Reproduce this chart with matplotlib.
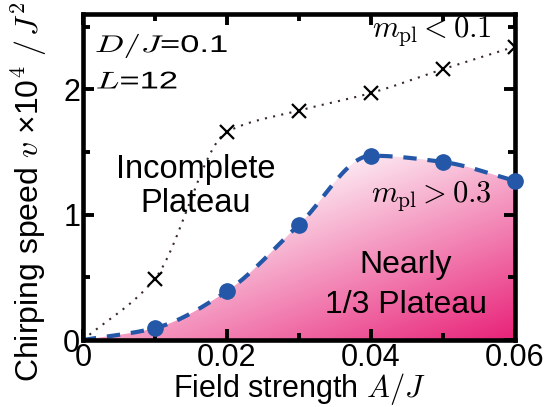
import matplotlib
matplotlib.use("Agg")
import matplotlib.pyplot as plt
import matplotlib.transforms as mtransforms
from matplotlib.textpath import TextPath
from matplotlib.patches import PathPatch
from matplotlib.font_manager import FontProperties
import numpy as np

plt.rcParams['font.family'] = ['Liberation Sans', 'DejaVu Sans']
plt.rcParams['mathtext.fontset'] = 'cm'

# field strength A/J
field = [0.0, 0.01, 0.02, 0.03, 0.04, 0.05, 0.06]
# chirping speed, m_pl < 0.1 (crosses)
v_low = [0.0, 0.49, 1.66, 1.83, 1.97, 2.16, 2.34]
# chirping speed, m_pl > 0.3 (dots)
v_high = [0.0, 0.095, 0.39, 0.92, 1.47, 1.42, 1.27]

BLUE = '#2457a7'
PINK = np.array([0.91, 0.13, 0.47])


def pchip(xs, ys, xn):
    # monotone piecewise cubic through the points
    xs = np.asarray(xs, float)
    ys = np.asarray(ys, float)
    h = np.diff(xs)
    d = np.diff(ys) / h
    m = np.zeros_like(ys)
    for i in range(1, len(xs) - 1):
        if d[i - 1] * d[i] > 0:
            w1 = 2 * h[i] + h[i - 1]
            w2 = h[i] + 2 * h[i - 1]
            m[i] = (w1 + w2) / (w1 / d[i - 1] + w2 / d[i])
    m[0] = d[0]
    m[-1] = d[-1]
    k = np.clip(np.searchsorted(xs, xn) - 1, 0, len(xs) - 2)
    t = (xn - xs[k]) / h[k]
    h00 = 2 * t**3 - 3 * t**2 + 1
    h10 = t**3 - 2 * t**2 + t
    h01 = -2 * t**3 + 3 * t**2
    h11 = t**3 - t**2
    return h00 * ys[k] + h10 * h[k] * m[k] + h01 * ys[k + 1] + h11 * h[k] * m[k + 1]


def wide_text(ax, x, y, s, size, sx=1.0, ha='left'):
    # text drawn as a path so it can be stretched sideways
    tp = TextPath((0, 0), s, size=size, prop=FontProperties(family='Liberation Sans'))
    off = 0
    if ha == 'right':
        off = -tp.get_extents().x1
    tr = (mtransforms.Affine2D().translate(off, 0).scale(sx / 72, 1 / 72)
          + ax.figure.dpi_scale_trans
          + mtransforms.ScaledTranslation(x, y, ax.transData))
    ax.add_patch(PathPatch(tp, transform=tr, color='black', lw=0, zorder=5))


xs = np.linspace(0, 0.06, 400)
low_s = pchip(field, v_low, xs)
high_s = pchip(field, v_high, xs)

fig = plt.figure(figsize=(5.51, 4.07), dpi=100)
ax = fig.add_axes([0.1506, 0.1646, 0.7841, 0.801])

# pink shading under the m_pl > 0.3 curve
gx, gy = np.meshgrid(np.linspace(0, 0.06, 300), np.linspace(0, 1.6, 300))
t = np.clip(0.6 * gx / 0.06 + 0.7 * (1 - gy / 1.5) - 0.3, 0, 1)
img = np.ones(gx.shape + (3,)) * (1 - t[..., None]) + PINK * t[..., None]
im = ax.imshow(img, extent=[0, 0.06, 0, 1.6], origin='lower', aspect='auto', zorder=0)
poly = ax.fill_between(xs, 0, high_s, color='none', lw=0)
im.set_clip_path(poly.get_paths()[0], transform=ax.transData)

ax.plot(xs, low_s, color='#3a2a2a', lw=1.5, dashes=(1, 3), zorder=2)
ax.plot(field[1:], v_low[1:], 'x', color='black', ms=9.5, mew=1.6, zorder=3)
ax.plot(xs, high_s, color=BLUE, lw=3, dashes=(3.2, 2.6), zorder=2)
ax.plot(field[1:], v_high[1:], 'o', color=BLUE, ms=11, zorder=3, clip_on=False)

ax.set_xlim(0, 0.06)
ax.set_ylim(0, 2.6)
ax.set_xticks([0, 0.02, 0.04, 0.06])
ax.set_xticklabels(['0', '0.02', '0.04', '0.06'])
ax.set_xticks([0.01, 0.03, 0.05], minor=True)
ax.set_yticks([0, 1, 2])
ax.set_yticks([0.5, 1.5, 2.5], minor=True)
ax.tick_params(which='both', direction='in', top=True, right=True,
               labelsize=22, width=2.8, pad=2)
ax.tick_params(which='major', length=8)
ax.tick_params(which='minor', length=5)
for s in ax.spines.values():
    s.set_linewidth(3.3)

ax.set_xlabel('Field strength $A/J$', fontsize=22, labelpad=-1)
ax.set_ylabel(r'Chirping speed $v$ ×10$^4$ $/\,J^2$', fontsize=23, ha='left')
ax.yaxis.set_label_coords(-0.079, -0.129)

wide_text(ax, 0.00167, 2.297, '$D/J$=0.1', 17.4, sx=1.43)
wide_text(ax, 0.00180, 2.006, '$L$=12', 17.4, sx=1.43)
ax.text(0.0568, 2.42, r'$m_{\rm pl}<0.1$', fontsize=22, va='baseline', ha='right')
ax.text(0.0568, 1.10, r'$m_{\rm pl}>0.3$', fontsize=22, va='baseline', ha='right')
ax.text(0.01563, 1.291, 'Incomplete', fontsize=23.5, ha='center', va='baseline')
ax.text(0.01563, 1.020, 'Plateau', fontsize=23.5, ha='center', va='baseline')
ax.text(0.04486, 0.531, 'Nearly', fontsize=23, ha='center', va='baseline')
ax.text(0.04486, 0.213, '1/3 Plateau', fontsize=23, ha='center', va='baseline')

fig.savefig('out.png', dpi=100)
